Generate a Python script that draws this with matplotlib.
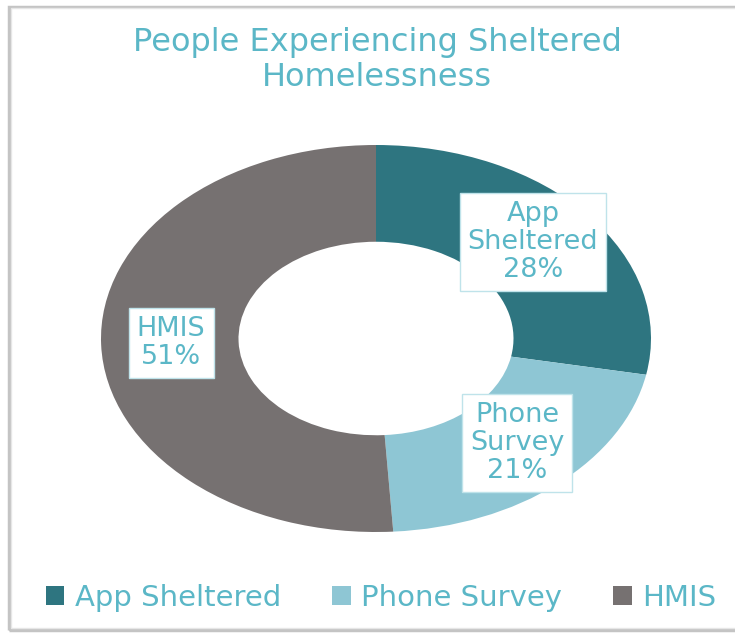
import matplotlib
matplotlib.use("Agg")
import matplotlib.pyplot as plt
from matplotlib.patches import Rectangle

# data
categories = ["App Sheltered", "Phone Survey", "HMIS"]
shares = [28, 21, 51]
colors = ["#2E7580", "#8EC6D4", "#767171"]
label_pos = [(0.571, 0.499), (0.513, -0.54), (-0.745, -0.023)]
label_text = ["App\nSheltered\n28%", "Phone\nSurvey\n21%", "HMIS\n51%"]

text_color = "#5BB7C7"
W, H = 735, 634

fig = plt.figure(figsize=(W / 100, H / 100), dpi=100)
fig.patch.set_facecolor("white")

# chart frame with a soft shadow on the left / top
fig.patches.append(Rectangle((9 / W, 4 / H), 740 / W, 623 / H, transform=fig.transFigure,
                             facecolor="none", edgecolor="#C4C4C4", linewidth=2.5, zorder=-2))
fig.patches.append(Rectangle((11 / W, 6 / H), 740 / W, 620 / H, transform=fig.transFigure,
                             facecolor="white", edgecolor="#E6E6E6", linewidth=1, zorder=-1))

fig.text(377 / W, 1 - 43 / H, "People Experiencing Sheltered", ha="center", va="center",
         color=text_color, fontsize=23, family="DejaVu Sans")
fig.text(377 / W, 1 - 77 / H, "Homelessness", ha="center", va="center",
         color=text_color, fontsize=23, family="DejaVu Sans")

ax = fig.add_axes([101 / W, 102 / H, 550 / W, 387 / H])
wedges, _ = ax.pie(shares, colors=colors, startangle=90, counterclock=False,
                   wedgeprops=dict(width=0.5, edgecolor="none"))
ax.set_aspect("auto")
ax.set_xlim(-1, 1)
ax.set_ylim(-1, 1)
ax.axis("off")

for (x, y), t in zip(label_pos, label_text):
    ax.text(x, y, t, ha="center", va="center", color=text_color, fontsize=19.5,
            family="DejaVu Sans", linespacing=1.1,
            bbox=dict(boxstyle="square,pad=0.3", facecolor="white", edgecolor="#BFE3EA", linewidth=1))

handles = [Rectangle((0, 0), 1, 1, facecolor=c) for c in colors]
leg = fig.legend(handles, categories, loc="center", bbox_to_anchor=(381 / W, 1 - 598 / H),
                 ncol=3, frameon=False, fontsize=21, handlelength=0.65, handleheight=0.65,
                 handletextpad=0.35, columnspacing=1.75)
for t in leg.get_texts():
    t.set_color(text_color)
    t.set_family("DejaVu Sans")

fig.savefig("out.png", dpi=100, facecolor="white")
